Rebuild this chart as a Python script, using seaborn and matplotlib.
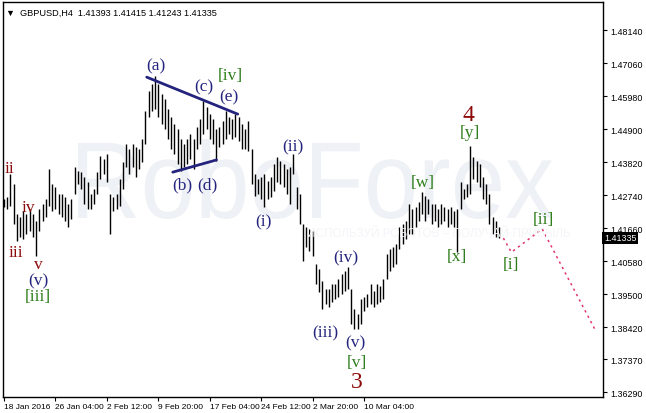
import numpy as np
import pandas as pd
import matplotlib
matplotlib.use("Agg")
import matplotlib.pyplot as plt
import seaborn as sns
from matplotlib.textpath import TextPath
from matplotlib.patches import PathPatch
from matplotlib.font_manager import FontProperties
from matplotlib.transforms import Affine2D, IdentityTransform

# GBPUSD H4 bars (high / low)
highs = [1.4261, 1.4267, 1.4343, 1.4310, 1.4212, 1.4202, 1.4222, 1.4212, 1.4228, 1.4212,
         1.4189, 1.4228, 1.4245, 1.4261, 1.4359, 1.4310, 1.4300, 1.4277, 1.4277, 1.4267,
         1.4245, 1.4261, 1.4366, 1.4353, 1.4349, 1.4333, 1.4317, 1.4277, 1.4294, 1.4349,
         1.4401, 1.4392, 1.4408, 1.4277, 1.4267, 1.4277, 1.4326, 1.4382, 1.4441, 1.4425,
         1.4441, 1.4431, 1.4425, 1.4457, 1.4549, 1.4614, 1.4637, 1.4663, 1.4637, 1.4605,
         1.4588, 1.4556, 1.4529, 1.4506, 1.4490, 1.4457, 1.4441, 1.4457, 1.4474, 1.4457,
         1.4496, 1.4523, 1.4582, 1.4562, 1.4539, 1.4523, 1.4490, 1.4496, 1.4518, 1.4549,
         1.4529, 1.4523, 1.4539, 1.4529, 1.4506, 1.4490, 1.4518, 1.4425, 1.4343, 1.4326,
         1.4333, 1.4343, 1.4320, 1.4333, 1.4375, 1.4398, 1.4385, 1.4375, 1.4359, 1.4366,
         1.4408, 1.4300, 1.4277, 1.4179, 1.4169, 1.4163, 1.4156, 1.4048, 1.4032, 1.3993,
         1.3966, 1.3966, 1.3983, 1.3983, 1.3999, 1.4015, 1.4025, 1.4038, 1.3966, 1.3901,
         1.3884, 1.3934, 1.3940, 1.3950, 1.3983, 1.3960, 1.3983, 1.3976, 1.3999, 1.4081,
         1.4097, 1.4104, 1.4114, 1.4169, 1.4179, 1.4189, 1.4245, 1.4228, 1.4235, 1.4251,
         1.4284, 1.4271, 1.4261, 1.4245, 1.4245, 1.4228, 1.4245, 1.4235, 1.4228, 1.4235,
         1.4222, 1.4228, 1.4317, 1.4294, 1.4310, 1.4435, 1.4398, 1.4385, 1.4375, 1.4333,
         1.4310, 1.4277, 1.4202, 1.4189, 1.4169]
lows = [1.4235, 1.4228, 1.4238, 1.4179, 1.4123, 1.4137, 1.4130, 1.4146, 1.4156, 1.4137,
        1.4074, 1.4156, 1.4189, 1.4202, 1.4238, 1.4222, 1.4228, 1.4212, 1.4202, 1.4189,
        1.4169, 1.4195, 1.4277, 1.4310, 1.4294, 1.4245, 1.4228, 1.4228, 1.4245, 1.4277,
        1.4326, 1.4343, 1.4317, 1.4146, 1.4222, 1.4228, 1.4238, 1.4294, 1.4366, 1.4343,
        1.4366, 1.4333, 1.4359, 1.4382, 1.4441, 1.4529, 1.4549, 1.4556, 1.4529, 1.4506,
        1.4490, 1.4457, 1.4425, 1.4408, 1.4375, 1.4353, 1.4366, 1.4375, 1.4392, 1.4359,
        1.4425, 1.4441, 1.4474, 1.4490, 1.4457, 1.4441, 1.4385, 1.4431, 1.4441, 1.4457,
        1.4474, 1.4457, 1.4464, 1.4451, 1.4425, 1.4425, 1.4418, 1.4310, 1.4271, 1.4277,
        1.4261, 1.4235, 1.4261, 1.4267, 1.4287, 1.4317, 1.4310, 1.4300, 1.4277, 1.4245,
        1.4343, 1.4228, 1.4179, 1.4058, 1.4104, 1.4091, 1.4074, 1.3983, 1.3957, 1.3901,
        1.3917, 1.3907, 1.3924, 1.3934, 1.3940, 1.3950, 1.3960, 1.3966, 1.3852, 1.3835,
        1.3835, 1.3852, 1.3894, 1.3907, 1.3917, 1.3907, 1.3917, 1.3924, 1.3934, 1.3999,
        1.4025, 1.4038, 1.4048, 1.4097, 1.4114, 1.4130, 1.4146, 1.4146, 1.4169, 1.4189,
        1.4212, 1.4189, 1.4212, 1.4179, 1.4189, 1.4169, 1.4179, 1.4189, 1.4169, 1.4179,
        1.4169, 1.4087, 1.4228, 1.4261, 1.4267, 1.4277, 1.4326, 1.4317, 1.4300, 1.4261,
        1.4245, 1.4179, 1.4146, 1.4137, 1.4134]
last_price = 1.41335

# triangle (a)-(e) boundaries
tri_upper_bar = [44.4, 72.7]
tri_upper_price = [1.4660, 1.4539]
tri_lower_bar = [52.5, 66.1]
tri_lower_price = [1.4349, 1.4389]

# forecast path [i] -> [ii] -> down
fc_bar = [155.3, 157.8, 167.4, 184.2]
fc_price = [1.4133, 1.4087, 1.4163, 1.3826]

date_ticks = [0, 16, 32, 48, 64, 80, 96, 112]
date_labels = ["18 Jan 2016", "26 Jan 04:00", "2 Feb 12:00", "9 Feb 20:00",
               "17 Feb 04:00", "24 Feb 12:00", "2 Mar 20:00", "10 Mar 04:00"]
price_ticks = [1.48140, 1.47060, 1.45980, 1.44900, 1.43820, 1.42740,
               1.41660, 1.40580, 1.39500, 1.38420, 1.37370, 1.36290]

RED = "#8e0b0b"
NAVY = "#24247e"
GREEN = "#2f7f1c"
# wave labels: text, bar, price, colour, size
labels = [
    ("ii", 1.6, 1.4362, RED, 12.5), ("iii", 3.7, 1.4087, RED, 12.5),
    ("iv", 7.5, 1.4235, RED, 12.5), ("v", 10.6, 1.4050, RED, 12.5),
    ("(v)", 10.6, 1.3996, NAVY, 12.5), ("[iii]", 10.6, 1.3942, GREEN, 12.5),
    ("(a)", 47.2, 1.4700, NAVY, 12.5), ("(b)", 55.6, 1.4310, NAVY, 12.5),
    ("(d)", 63.4, 1.4310, NAVY, 12.5), ("(c)", 62.1, 1.4631, NAVY, 12.5),
    ("[iv]", 70.4, 1.4667, GREEN, 12.5), ("(e)", 69.9, 1.4598, NAVY, 12.5),
    ("(i)", 80.7, 1.4189, NAVY, 12.5), ("(ii)", 89.8, 1.4434, NAVY, 12.5),
    ("(iii)", 100.0, 1.3826, NAVY, 12.5), ("(iv)", 106.2, 1.4071, NAVY, 12.5),
    ("(v)", 109.3, 1.3791, NAVY, 12.5), ("[v]", 109.6, 1.3727, GREEN, 12.5),
    ("3", 109.6, 1.3665, RED, 17), ("[w]", 130.1, 1.4317, GREEN, 12.5),
    ("4", 144.4, 1.4539, RED, 17), ("[y]", 145.0, 1.4480, GREEN, 12.5),
    ("[x]", 141.0, 1.4074, GREEN, 12.5), ("[i]", 157.8, 1.4048, GREEN, 12.5),
    ("[ii]", 167.7, 1.4195, GREEN, 12.5),
]

sns.set_theme(style="white")
plt.rcParams['font.family'] = ['Liberation Sans', 'DejaVu Sans']

bars = pd.DataFrame({'bar': np.arange(len(highs)), 'high': highs, 'low': lows})

fig = plt.figure(figsize=(6.46, 4.14), dpi=100)
ax = fig.add_axes([3 / 646, 16 / 414, 600 / 646, 395 / 414])

# watermark
tp = TextPath((0, 0), "RoboForex", size=1, prop=FontProperties(family="Liberation Sans"))
ext = tp.get_extents()
wm_tr = Affine2D().translate(-ext.x0, -ext.y0).scale(475 / ext.width, 80 / ext.height).translate(78, 414 - 220)
ax.add_patch(PathPatch(tp, transform=wm_tr + IdentityTransform(), facecolor="#eef1f5", edgecolor="none", zorder=0))
fig.text(307 / 646, 1 - 237 / 414, "ИСПОЛЬЗУЙ РОБОТОВ – ПОЛУЧАЙ ПРИБЫЛЬ", fontsize=8.5,
         color="#f3f5f8", ha="left", va="baseline", zorder=0)

ax.vlines(bars['bar'], bars['low'], bars['high'], color='black', lw=1.0, zorder=2)

sns.lineplot(x=tri_upper_bar, y=tri_upper_price, ax=ax, color=NAVY, lw=2, zorder=3)
sns.lineplot(x=tri_lower_bar, y=tri_lower_price, ax=ax, color=NAVY, lw=2, zorder=3)
sns.lineplot(x=fc_bar, y=fc_price, ax=ax, color="#e2336a", lw=1.1, linestyle=(0, (1.5, 2.5)), zorder=3)

for txt, bx, py, col, fs in labels:
    ax.text(bx, py, txt, color=col, fontsize=fs, family="Liberation Serif",
            ha="center", va="center", zorder=4)

ax.set_xlim(-0.3, 186.3)
ax.set_ylim(1.3613, 1.4906)

ax.set_xticks(date_ticks)
ax.set_xticklabels(date_labels, ha="left")
ax.yaxis.tick_right()
ax.set_yticks(price_ticks)
ax.set_yticklabels([f"{v:.5f}" for v in price_ticks])
ax.tick_params(axis='x', bottom=True, direction='out', length=3, width=0.8, labelsize=6, pad=1, colors='black')
ax.tick_params(axis='y', right=True, left=False, direction='out', length=3, width=0.8, labelsize=6.4, pad=2, colors='black')
ax.set_xlabel("")
ax.set_ylabel("")
for s in ax.spines.values():
    s.set_color("black")
    s.set_linewidth(1)

ax.text(1.002, last_price, "1.41335", transform=ax.get_yaxis_transform(), ha="left", va="center",
        color="white", fontsize=6.4, bbox=dict(facecolor="black", edgecolor="none", pad=1.3), clip_on=False)

ax.text(0.005, 0.985, "\u25bc  GBPUSD,H4  1.41393 1.41415 1.41243 1.41335", transform=ax.transAxes,
        ha="left", va="top", fontsize=6.6, color="black",
        family=["Liberation Sans", "DejaVu Sans"])

fig.savefig("out.png", dpi=100, facecolor="white")
